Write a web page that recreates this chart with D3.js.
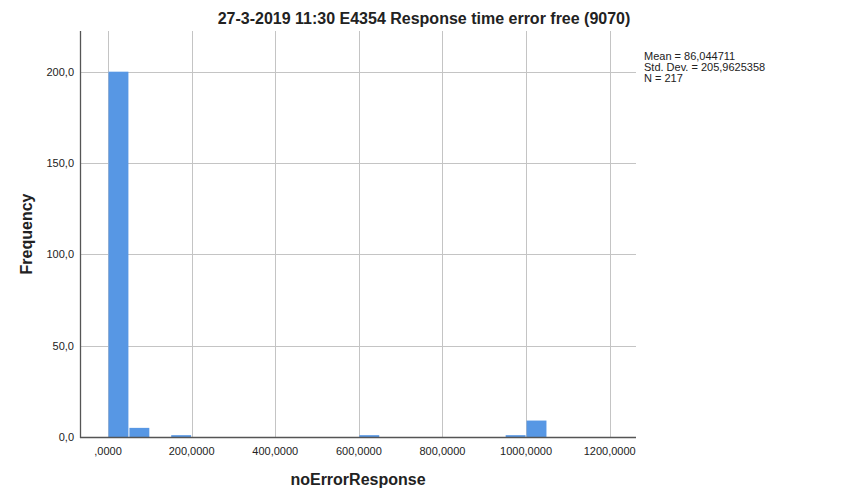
<!DOCTYPE html>
<html><head><meta charset="utf-8">
<script src="https://cdn.jsdelivr.net/npm/d3@7"></script>
<style>body{margin:0;background:#fff;} svg{display:block;font-family:"Liberation Sans",Arial,sans-serif;}</style>
</head><body>
<svg id="c" width="851" height="501"></svg>
<script>
const title = "27-3-2019 11:30 E4354 Response time error free (9070)";
const binStarts = [0, 50, 150, 600, 950, 1000];
const counts = [200, 5, 1, 1, 1, 9];
const binWidth = 50;
const xTicks = [0, 200, 400, 600, 800, 1000, 1200];
const xTickLabels = [",0000", "200,0000", "400,0000", "600,0000", "800,0000", "1000,0000", "1200,0000"];
const yTicks = [0, 50, 100, 150, 200];
const yTickLabels = ["0,0", "50,0", "100,0", "150,0", "200,0"];
const stats = ["Mean = 86,044711", "Std. Dev. = 205,9625358", "N = 217"];

const svg = d3.select("#c");
const L = 80, R = 636, T = 31, B = 437;
const x = d3.scaleLinear().domain([-67, 1263]).range([L, R]);
const y = d3.scaleLinear().domain([0, 222]).range([B, T + 0.5]);

// grid
const g = svg.append("g");
g.selectAll(".vg").data(xTicks).enter().append("line")
  .attr("x1", d => Math.round(x(d)) + 0.5).attr("x2", d => Math.round(x(d)) + 0.5)
  .attr("y1", T).attr("y2", B).attr("stroke", "#c4c4c4").attr("stroke-width", 1);
g.selectAll(".hg").data(yTicks).enter().append("line")
  .attr("x1", L).attr("x2", R)
  .attr("y1", d => Math.round(y(d)) + 0.5).attr("y2", d => Math.round(y(d)) + 0.5)
  .attr("stroke", "#c4c4c4").attr("stroke-width", 1);

// bars
svg.append("g").selectAll("rect").data(binStarts).enter().append("rect")
  .attr("x", d => x(d) + 0.5)
  .attr("width", d => x(d + binWidth) - x(d) - 1)
  .attr("y", (d, i) => y(counts[i]))
  .attr("height", (d, i) => B - y(counts[i]))
  .attr("fill", "#5797e4");

// axes lines
svg.append("line").attr("x1", L + 0.5).attr("x2", L + 0.5).attr("y1", T).attr("y2", B + 1)
  .attr("stroke", "#555").attr("stroke-width", 1.3);
svg.append("line").attr("x1", L).attr("x2", R).attr("y1", B + 0.5).attr("y2", B + 0.5)
  .attr("stroke", "#555").attr("stroke-width", 1.3);

// tick labels
svg.append("g").selectAll("text").data(xTicks).enter().append("text")
  .attr("x", d => x(d)).attr("y", 455).attr("text-anchor", "middle")
  .attr("font-size", 11).attr("fill", "#222").text((d, i) => xTickLabels[i]);
svg.append("g").selectAll("text").data(yTicks).enter().append("text")
  .attr("x", 74).attr("y", d => y(d) + 4).attr("text-anchor", "end")
  .attr("font-size", 11).attr("fill", "#222").text((d, i) => yTickLabels[i]);

// titles
svg.append("text").attr("x", 424).attr("y", 24).attr("text-anchor", "middle")
  .attr("font-size", 16).attr("font-weight", "bold").attr("fill", "#222").text(title);
svg.append("text").attr("transform", "translate(32,234) rotate(-90)").attr("text-anchor", "middle")
  .attr("font-size", 16).attr("font-weight", "bold").attr("fill", "#222").text("Frequency");
svg.append("text").attr("x", 358).attr("y", 485).attr("text-anchor", "middle")
  .attr("font-size", 16).attr("font-weight", "bold").attr("fill", "#222").text("noErrorResponse");

// stats
svg.append("g").selectAll("text").data(stats).enter().append("text")
  .attr("x", 644).attr("y", (d, i) => 60 + i * 11)
  .attr("font-size", 11).attr("fill", "#222").text(d => d);
</script>
</body></html>
